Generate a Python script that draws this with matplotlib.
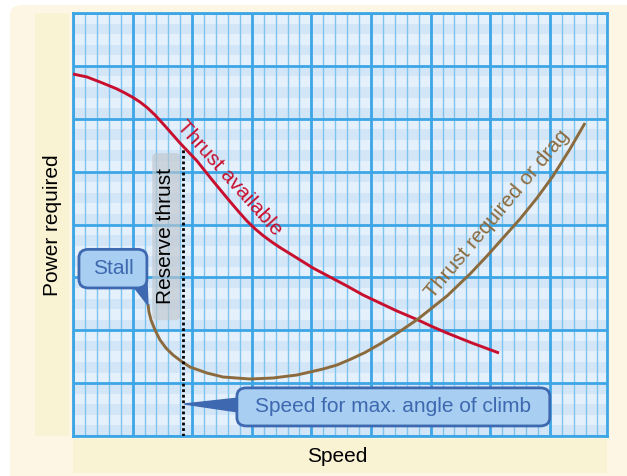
import matplotlib
matplotlib.use("Agg")
import matplotlib.pyplot as plt
import numpy as np
from matplotlib.patches import FancyBboxPatch, Rectangle, Polygon

plt.rcParams['font.family'] = ['Liberation Sans', 'DejaVu Sans']

# ---- data (x = speed, y = power units) ----
thrust_avail_x = [0.000, 0.235, 0.453, 0.721, 0.872, 1.007, 1.124, 1.242, 1.376,
                  1.544, 1.795, 2.081, 2.349, 2.634, 2.777, 2.919, 3.054, 3.188,
                  3.331, 3.473, 3.758, 4.027, 4.312, 4.597, 4.866, 5.151, 5.436,
                  5.772, 6.023, 6.275, 6.695, 7.148]
thrust_avail_y = [6.846, 6.790, 6.695, 6.572, 6.487, 6.402, 6.317, 6.213, 6.071,
                  5.863, 5.541, 5.201, 4.823, 4.435, 4.246, 4.066, 3.919, 3.792,
                  3.673, 3.565, 3.366, 3.177, 3.007, 2.837, 2.667, 2.515, 2.364,
                  2.203, 2.071, 1.948, 1.759, 1.570]

drag_x = [1.258, 1.275, 1.309, 1.376, 1.460, 1.560, 1.678, 1.812, 1.963, 2.248,
          2.517, 2.970, 3.356, 3.758, 4.195, 4.430, 4.648, 4.899, 5.151, 5.470,
          5.789, 6.275, 6.661, 6.946, 7.215, 7.500, 7.785, 8.054, 8.339, 8.591]
drag_y = [2.496, 2.345, 2.194, 2.005, 1.816, 1.664, 1.532, 1.418, 1.305, 1.191,
          1.116, 1.078, 1.097, 1.154, 1.267, 1.343, 1.447, 1.579, 1.740, 1.967,
          2.213, 2.648, 3.064, 3.404, 3.745, 4.104, 4.501, 4.917, 5.428, 5.920]

reserve_speed = 1.85
stall_speed = 1.258
stall_power = 2.496

x_label = "Speed"
y_label = "Power required"
avail_label = "Thrust available"
drag_label = "Thrust required or drag"
reserve_label = "Reserve thrust"
stall_label = "Stall"
climb_label = "Speed for max. angle of climb"

# ---- styling ----
W, H = 627, 476
fig = plt.figure(figsize=(W / 100, H / 100), dpi=100)
fig.patch.set_facecolor('white')

def fx(px):
    return px / W

def fy(py):
    return 1 - py / H

# background panels (figure coords)
fig.patches.append(FancyBboxPatch((fx(10), fy(490)), fx(640) - fx(10), fy(5) - fy(490),
                                  boxstyle="round,pad=0,rounding_size=0.02",
                                  transform=fig.transFigure, fc='#FDF6E4', ec='none', zorder=-10))
fig.patches.append(Rectangle((fx(35), fy(436)), fx(69) - fx(35), fy(13) - fy(436),
                             transform=fig.transFigure, fc='#F9F2D3', ec='none', zorder=-9))
fig.patches.append(Rectangle((fx(73), fy(473)), fx(607) - fx(73), fy(439) - fy(473),
                             transform=fig.transFigure, fc='#F9F2D3', ec='none', zorder=-9))

ax = fig.add_axes([fx(73), fy(436), fx(607) - fx(73), fy(13) - fy(436)])
ax.set_zorder(1)
XMAX, YMAX = 8.96, 8.0
ax.set_xlim(0, XMAX)
ax.set_ylim(0, YMAX)
ax.set_facecolor('#E4F0FC')

major_c = '#3DA6E6'
minor_c = '#7EC4EF'

# stripes
nb = int(round(YMAX / 0.2))
for j in range(nb):
    if j % 2 == 0:
        ax.axhspan(j * 0.2, (j + 1) * 0.2, color='#D3E6F8', lw=0, zorder=0.1)

ax.set_xticks(np.arange(0, 9, 1))
ax.set_xticks(np.arange(0, XMAX, 0.2), minor=True)
ax.set_yticks(np.arange(0, 9, 1))
ax.set_yticks([], minor=True)
ax.set_axisbelow(True)
ax.grid(which='major', axis='both', color=major_c, lw=2)
ax.grid(which='minor', axis='x', color=minor_c, lw=1)
ax.tick_params(which='both', length=0, labelbottom=False, labelleft=False)
for s in ax.spines.values():
    s.set_color(major_c)
    s.set_linewidth(2)

# reserve thrust band
ax.add_patch(FancyBboxPatch((1.33, 2.19), 0.47, 3.16,
                            boxstyle="round,pad=0,rounding_size=0.08",
                            fc='#BFC6CC', ec='none', alpha=0.65, zorder=2))
ax.text(1.545, 3.78, reserve_label, rotation=90, ha='center', va='center',
        fontsize=15, color='black', zorder=5)

# curves
ax.plot(thrust_avail_x, thrust_avail_y, color='#C8102E', lw=2.1, zorder=4,
        solid_capstyle='butt', solid_joinstyle='round')
ax.plot(drag_x, drag_y, color='#8B6B3D', lw=2.1, zorder=4,
        solid_capstyle='butt', solid_joinstyle='round')

# dotted reserve line
ax.plot([reserve_speed, reserve_speed], [0, 5.42], color='black', lw=2,
        linestyle=(0, (1, 1)), dash_capstyle='butt', zorder=4)

# curve labels
ax.text(2.62, 4.88, avail_label, rotation=-48, rotation_mode='anchor',
        ha='center', va='center', fontsize=15, color='#C8102E', zorder=5)
ax.text(7.12, 4.2, drag_label, rotation=50, rotation_mode='anchor',
        ha='center', va='center', fontsize=15, color='#8B6B3D', zorder=5)

box_fc = '#A8CFF2'
box_ec = '#3E68B0'

# Stall callout
ax.add_patch(Polygon([[1.02, 2.82], [1.24, 2.95], [stall_speed, stall_power - 0.02]],
                     closed=True, fc=box_ec, ec=box_ec, lw=1, zorder=5))
ax.add_patch(FancyBboxPatch((0.10, 2.80), 1.14, 0.73,
                            boxstyle="round,pad=0,rounding_size=0.16",
                            fc=box_fc, ec=box_ec, lw=2, zorder=6))
ax.text(0.67, 3.17, stall_label, ha='center', va='center', fontsize=15,
        color=box_ec, zorder=7)

# Speed for max angle of climb callout
ax.add_patch(Polygon([[2.80, 0.72], [2.80, 0.45], [reserve_speed + 0.02, 0.605]],
                     closed=True, fc=box_ec, ec=box_ec, lw=1, zorder=5))
ax.add_patch(FancyBboxPatch((2.75, 0.19), 5.25, 0.72,
                            boxstyle="round,pad=0,rounding_size=0.16",
                            fc=box_fc, ec=box_ec, lw=2, zorder=6))
ax.text(5.37, 0.55, climb_label, ha='center', va='center', fontsize=15,
        color=box_ec, zorder=7)

# axis labels
fig.text(fx(52), fy(225), y_label, rotation=90, ha='center', va='center',
         fontsize=15, color='black')
fig.text(fx(337), fy(456), x_label, ha='center', va='center',
         fontsize=15, color='black')

fig.savefig('out.png', dpi=100)
